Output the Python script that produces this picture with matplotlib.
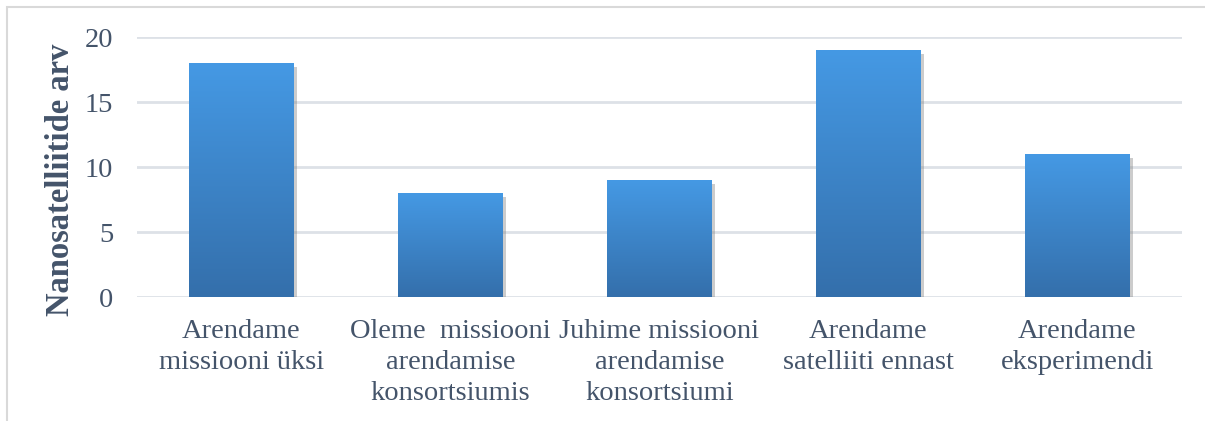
import numpy as np
import matplotlib
matplotlib.use('Agg')
import matplotlib.pyplot as plt
import matplotlib.patheffects as pe
from matplotlib.patches import Rectangle

categories = ['Arendame\nmissiooni üksi',
              'Oleme  missiooni\narendamise\nkonsortsiumis',
              'Juhime missiooni\narendamise\nkonsortsiumi',
              'Arendame\nsatelliiti ennast',
              'Arendame\neksperimendi']
values = [18, 8, 9, 19, 11]
y_ticks = [0, 5, 10, 15, 20]
y_label = 'Nanosatelliitide arv'

text_color = '#44546A'
grid_color = '#DDE1E7'

plt.rcParams['font.family'] = ['Liberation Serif', 'DejaVu Serif']

fig = plt.figure(figsize=(12.05, 4.21), dpi=100)
ax = fig.add_axes([0.1137, 0.2945, 0.8672, 0.6175])

# thin frame around the chart area (only top and left show in the picture)
fig.patches.append(Rectangle((0.0058, -0.1), 1.1, 1.0834, transform=fig.transFigure,
                             fill=False, edgecolor='#D9D9D9', linewidth=1.5))

x = np.arange(len(categories))
bars = ax.bar(x, values, width=0.5, color='#3D83CB', zorder=3,
              path_effects=[pe.SimplePatchShadow(offset=(2, -3), shadow_rgbFace='#808080', alpha=0.4),
                            pe.Normal()])

# vertical gradient inside each bar
grad = np.linspace(0, 1, 256).reshape(-1, 1)
cmap = matplotlib.colors.LinearSegmentedColormap.from_list('bar', ['#346FAB', '#4599E4'])
for b in bars:
    x0, y0 = b.get_x(), b.get_y()
    im = ax.imshow(grad, cmap=cmap, extent=[x0, x0 + b.get_width(), y0, y0 + b.get_height()],
                   origin='lower', aspect='auto', zorder=4)
    im.set_clip_path(b)

ax.set_xlim(-0.5, len(categories) - 0.5)
ax.set_ylim(0, 20)
ax.set_yticks(y_ticks)
ax.set_xticks(x)
ax.set_xticklabels(categories, linespacing=1.32)
ax.grid(axis='y', color=grid_color, linewidth=2, zorder=0)
for s in ax.spines.values():
    s.set_visible(False)
ax.tick_params(axis='both', length=0, labelsize=20.5, colors=text_color)
ax.tick_params(axis='y', pad=17)
ax.tick_params(axis='x', pad=16)

ax.set_ylabel(y_label, fontsize=23.5, fontweight='bold', color=text_color)
ax.yaxis.set_label_coords(-0.058, 0.45)

fig.savefig('out.png', dpi=100)
